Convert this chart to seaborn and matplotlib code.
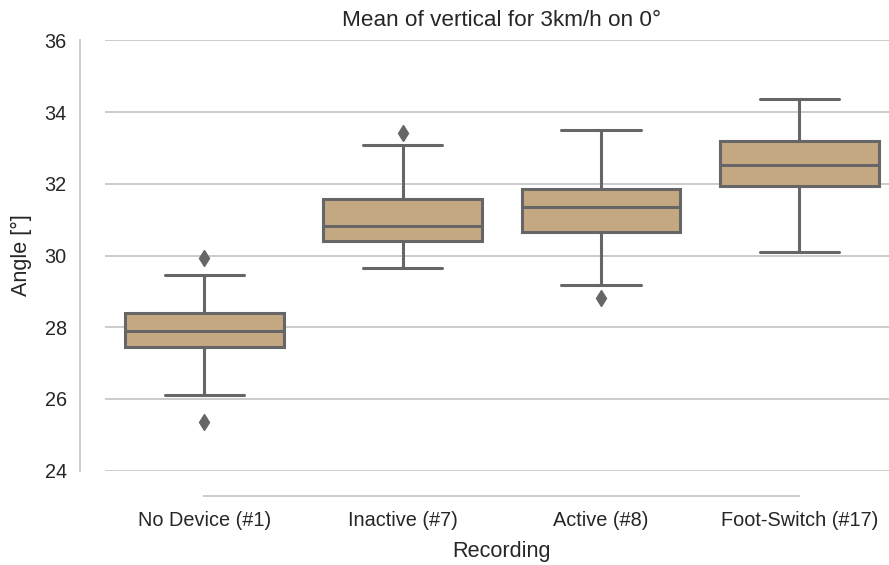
import numpy as np
import pandas as pd
import matplotlib
matplotlib.use("Agg")
import matplotlib.pyplot as plt
import seaborn as sns

# Recording conditions on the x axis
recordings = ["No Device (#1)", "Inactive (#7)", "Active (#8)", "Foot-Switch (#17)"]

# Mean vertical angle per trial [deg] for each recording
no_device = [25.35, 26.10, 27.46, 27.70, 27.89, 28.15, 28.39, 29.45, 29.94]
inactive = [29.64, 30.10, 30.40, 30.60, 30.83, 31.20, 31.58, 33.08, 33.42]
active = [28.81, 29.17, 30.66, 31.00, 31.35, 31.60, 31.86, 32.60, 33.51]
foot_switch = [30.10, 31.00, 31.94, 32.20, 32.53, 32.90, 33.20, 33.80, 34.36]

y_ticks = [24, 26, 28, 30, 32, 34, 36]

samples = [no_device, inactive, active, foot_switch]
df = pd.DataFrame({
    "Recording": np.repeat(recordings, [len(s) for s in samples]),
    "Angle": np.concatenate(samples),
})

sns.set_theme(style="whitegrid")
plt.rcParams["font.family"] = ["Liberation Sans", "DejaVu Sans"]
plt.rcParams.update({
    "grid.linewidth": 1.4,
    "axes.linewidth": 1.4,
    "grid.color": "#cccccc",
    "axes.edgecolor": "#cccccc",
})

W, H = 889, 565
fig = plt.figure(figsize=(W / 100, H / 100), dpi=100)
ax = fig.add_axes([105 / W, (H - 470.7) / H, 793.5 / W, 430.4 / H])

line_col = "#666666"
text_col = "#262626"
sns.boxplot(
    data=df, x="Recording", y="Angle", order=recordings,
    color="#C4A882", saturation=1, width=0.8,
    linecolor=line_col, linewidth=2.2,
    flierprops=dict(marker="d", markersize=8, markerfacecolor=line_col,
                    markeredgecolor=line_col, markeredgewidth=1),
    ax=ax,
)

ax.set_ylim(24, 36)
ax.set_yticks(y_ticks)
ax.set_xlim(-0.5, 3.5)
ax.tick_params(labelsize=14.3, colors=text_col)
ax.tick_params(axis="x", pad=4.7)
ax.set_xlabel("Recording", fontsize=15.6, color=text_col, labelpad=8.5)
ax.set_ylabel("Angle [°]", fontsize=15.6, color=text_col, labelpad=9)
ax.set_title("Mean of vertical for 3km/h on 0°", fontsize=16.2,
             color=text_col, pad=10)
sns.despine(ax=ax, offset=18, trim=True)

fig.savefig("out.png", dpi=100)
